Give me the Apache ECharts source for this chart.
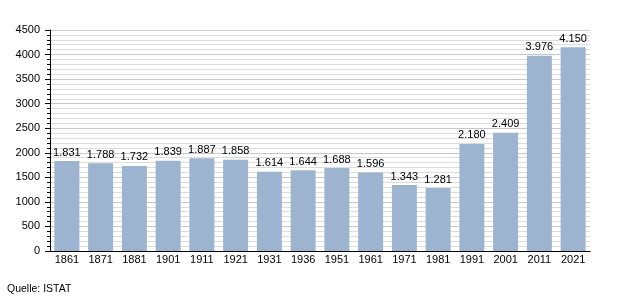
<!DOCTYPE html>
<html><head><meta charset="utf-8">
<script src="https://cdn.jsdelivr.net/npm/echarts@6/dist/echarts.min.js"></script>
<style>html,body{margin:0;padding:0;background:#fff}#c{width:620px;height:300px}</style>
</head><body><div id="c"></div>
<script>
const years = ['1861','1871','1881','1901','1911','1921','1931','1936','1951','1961','1971','1981','1991','2001','2011','2021'];
const population = [1831,1788,1732,1839,1887,1858,1614,1644,1688,1596,1343,1281,2180,2409,3976,4150];
const yTicks = [0,500,1000,1500,2000,2500,3000,3500,4000,4500];
const source = 'Quelle: ISTAT';

const chart = echarts.init(document.getElementById('c'), null, {renderer:'canvas'});
const fmt = v => String(v).replace(/\B(?=(\d{3})+(?!\d))/g, '.');
chart.setOption({
  animation:false,
  textStyle:{fontFamily:'Liberation Sans, Arial, sans-serif'},
  grid:{left:50,right:30,top:30,bottom:49,containLabel:false},
  xAxis:{type:'category',data:years,
    axisLine:{lineStyle:{color:'#000',width:1}},
    axisTick:{show:false},
    axisLabel:{color:'#000',fontSize:11,margin:3}},
  yAxis:{type:'value',min:yTicks[0],max:yTicks[yTicks.length-1],interval:500,
    axisLine:{show:true,lineStyle:{color:'#000'}},
    axisTick:{show:true,length:5,lineStyle:{color:'#000'}},
    minorTick:{show:true,splitNumber:5,length:3,lineStyle:{color:'#000'}},
    splitLine:{lineStyle:{color:'#c8c8c8'}},
    minorSplitLine:{show:true,lineStyle:{color:'#dcdcdc'}},
    axisLabel:{color:'#000',fontSize:11,margin:10,formatter:v=>String(v)}},
  series:[{type:'bar',data:population,barWidth:'74%',
    itemStyle:{color:'#9cb4d0'},
    label:{show:true,position:'top',color:'#000',fontSize:11,distance:3,formatter:p=>fmt(p.value)}}],
  graphic:[{type:'text',left:7,top:284,style:{text:source,fill:'#000',fontSize:10.5,fontFamily:'Liberation Sans, Arial, sans-serif'}}]
});
</script></body></html>
